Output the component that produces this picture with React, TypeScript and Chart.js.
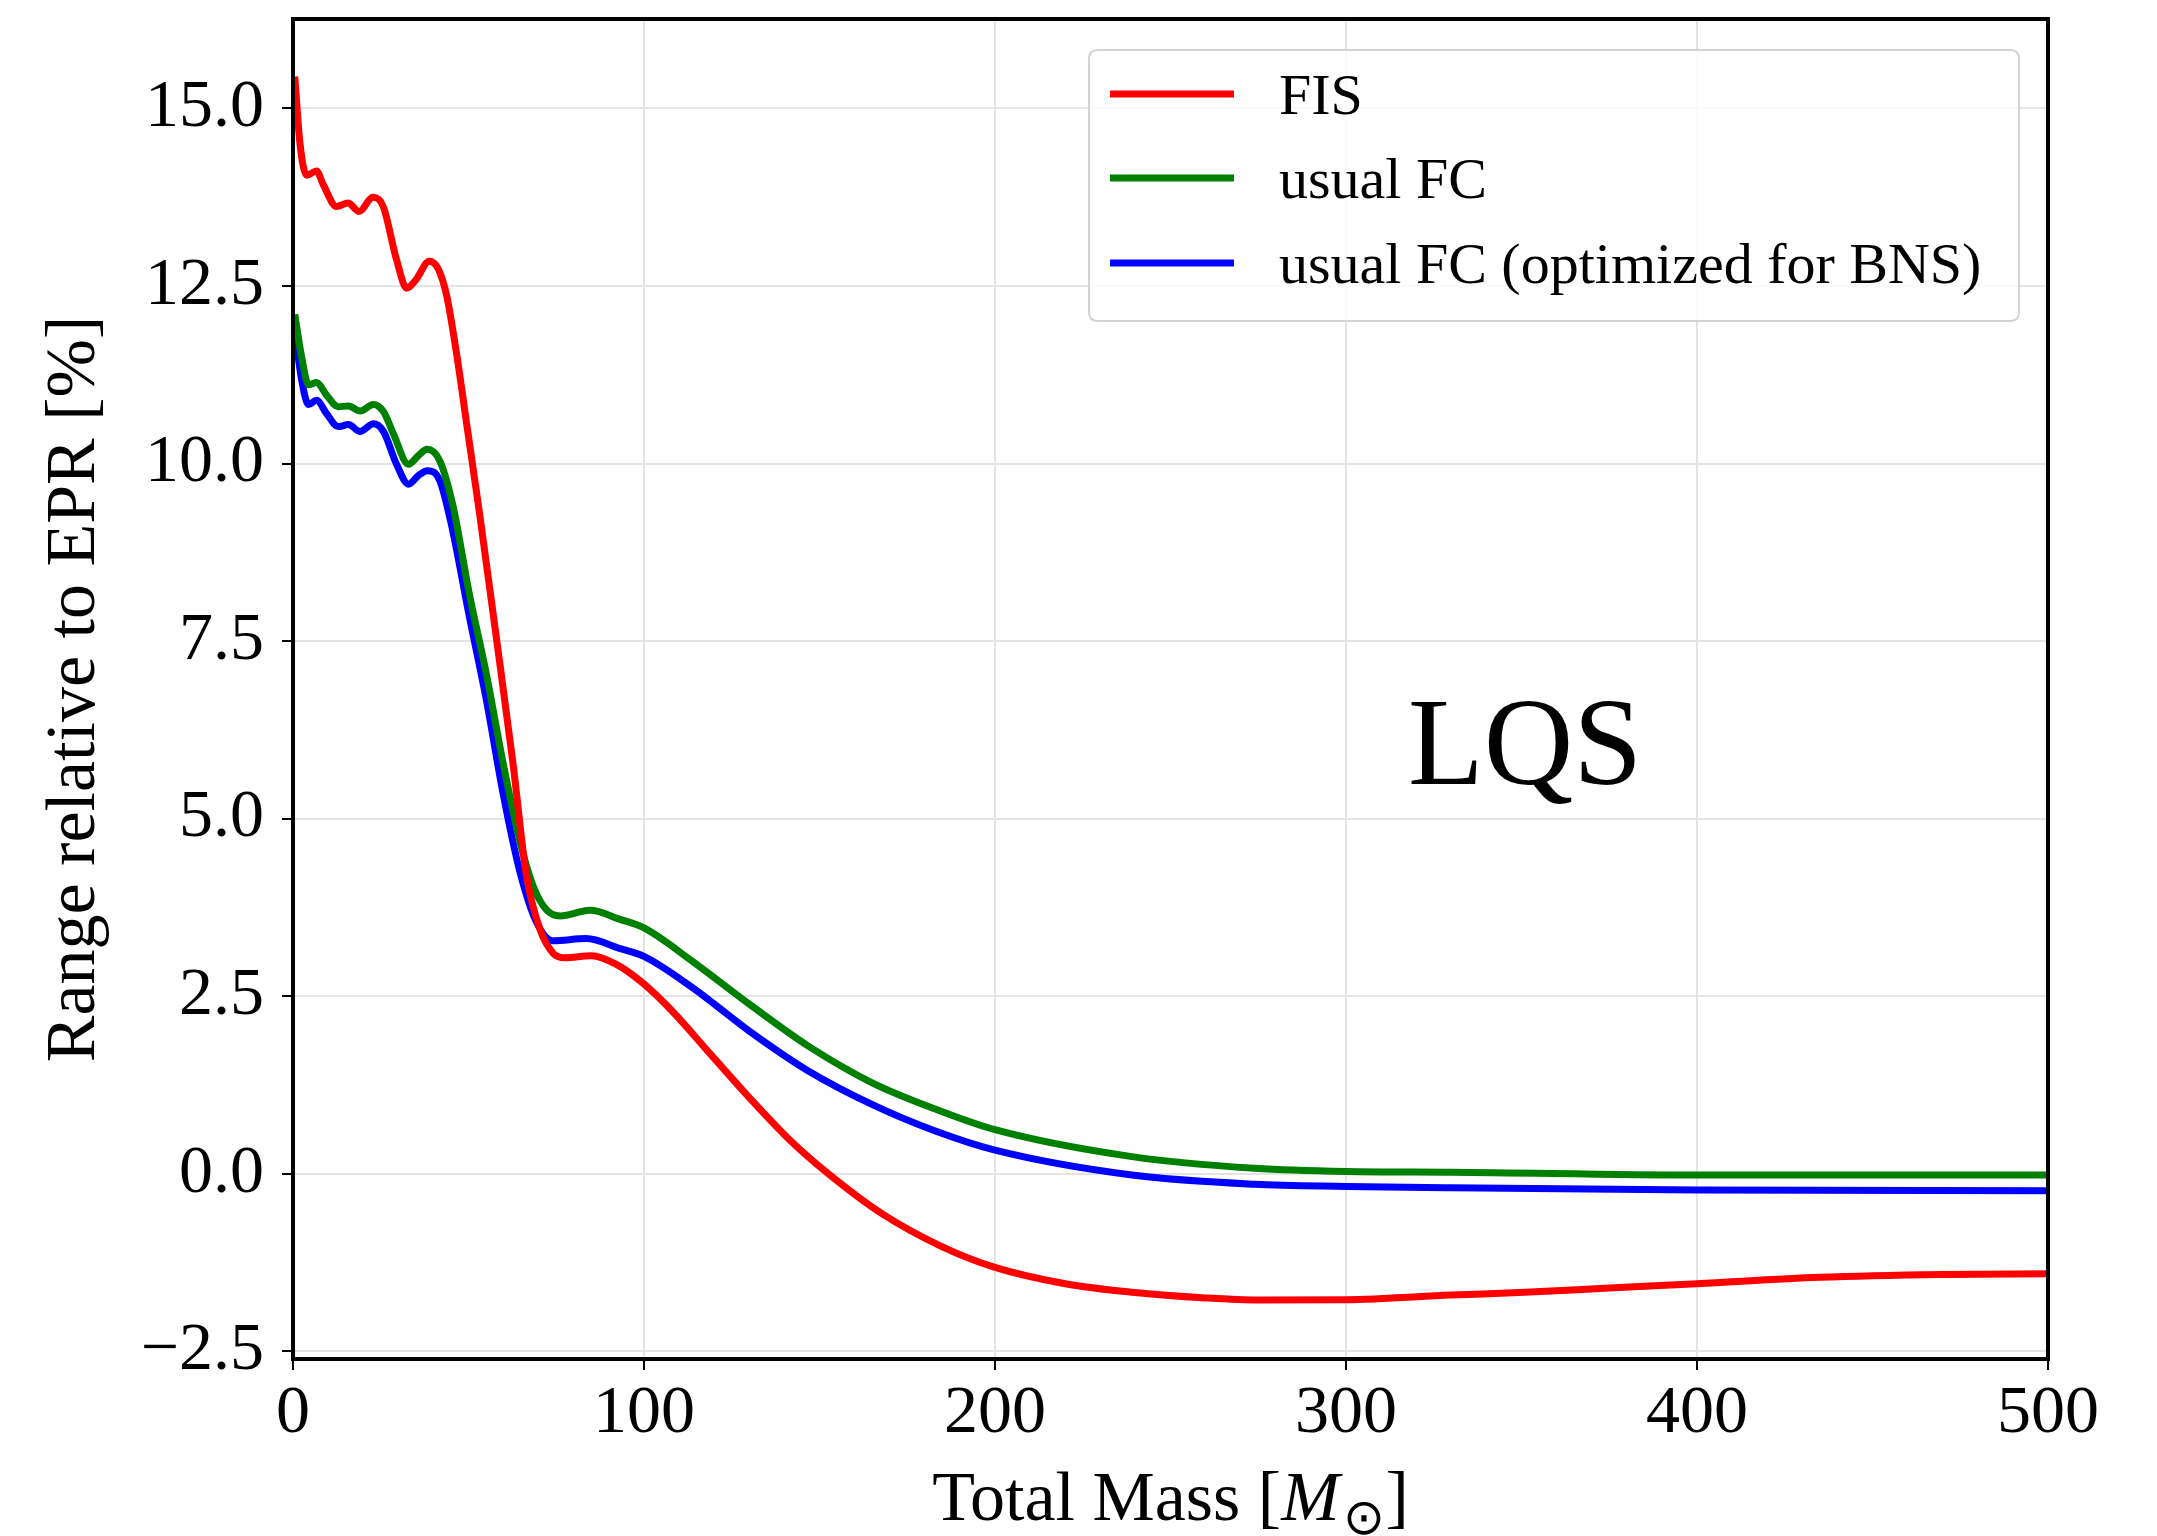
import React, { useEffect, useRef } from "react";
import { Chart, registerables } from "chart.js";

Chart.register(...registerables);

// ---- data ----
const fisMass = [0.5, 2, 3.9, 6.7, 8.6, 12.4, 15.7, 18.8, 22.8, 25.7, 29.5, 32.4, 35.2, 38.8, 41.4, 43.8, 46.6, 49.5, 53.2, 57.9, 62.7, 66.5, 70.3, 74.2, 77.5, 85, 92, 100, 108, 119, 130, 141, 152, 168, 185, 200, 220, 239, 260, 275, 300, 330, 351, 375, 400, 435, 470, 500];
const fisRange = [15.45, 14.5, 14.06, 14.12, 13.93, 13.62, 13.67, 13.55, 13.75, 13.62, 12.87, 12.47, 12.6, 12.85, 12.74, 12.36, 11.55, 10.55, 9.28, 7.56, 5.77, 4.2, 3.45, 3.1, 3.04, 3.07, 2.95, 2.67, 2.29, 1.68, 1.07, 0.5, 0.02, -0.57, -1.03, -1.32, -1.55, -1.67, -1.75, -1.78, -1.775, -1.71, -1.67, -1.61, -1.55, -1.46, -1.42, -1.41];

const fcMass = [0.5, 2.5, 4.4, 6.7, 9.6, 12.9, 15.8, 19.1, 22.9, 25.8, 28.6, 32.9, 35.7, 38.2, 41.8, 45.6, 50.1, 55.2, 59.9, 64.6, 68.5, 72.3, 76.1, 84.6, 93.2, 100, 113.8, 130.2, 146.7, 165, 183, 200, 239, 274, 300, 330, 400, 500];
const fcRange = [12.1, 11.49, 11.11, 11.14, 10.96, 10.8, 10.81, 10.74, 10.83, 10.73, 10.42, 9.99, 10.11, 10.2, 10.04, 9.4, 8.2, 7.01, 5.77, 4.69, 4.04, 3.71, 3.63, 3.71, 3.58, 3.46, 2.99, 2.38, 1.8, 1.28, 0.91, 0.62, 0.24, 0.075, 0.03, 0.02, -0.02, -0.02];

const bnsMass = [0.5, 2.5, 4.4, 6.7, 9.6, 12.9, 15.8, 19.1, 22.9, 25.8, 29.5, 32.9, 35.7, 38.3, 41.8, 45.3, 50.1, 55.2, 59.9, 64.6, 69.3, 74, 83.5, 93.2, 100, 113.8, 130.2, 146.7, 166, 183, 200, 239, 274, 300, 330, 400, 500];
const bnsRange = [11.85, 11.17, 10.83, 10.89, 10.7, 10.52, 10.55, 10.45, 10.56, 10.45, 9.99, 9.71, 9.83, 9.9, 9.76, 9.1, 7.88, 6.64, 5.34, 4.26, 3.55, 3.28, 3.31, 3.17, 3.06, 2.62, 2.0, 1.45, 0.95, 0.6, 0.33, -0.02, -0.15, -0.18, -0.2, -0.23, -0.24];

const seriesLabels = ["FIS", "usual FC", "usual FC (optimized for BNS)"];
const seriesColors = ["#ff0000", "#008000", "#0000ff"];

const xMin = 0, xMax = 500, xStep = 100;
const yMin = -2.61, yMax = 16.26, yStep = 2.5;
const yTitle = "Range relative to EPR [%]";
const annotationText = "LQS";
const annotationPos = { x: 351, y: 5.49 };

const SERIF = '"Liberation Serif", "Times New Roman", serif';

const zip = (xs: number[], ys: number[]) => xs.map((x, i) => ({ x, y: ys[i] }));

const decorPlugin = {
  id: "decor",
  afterDatasetsDraw(chart: any) {
    const { ctx, chartArea, scales } = chart;
    // annotation text
    ctx.save();
    ctx.fillStyle = "#000";
    ctx.font = `124px ${SERIF}`;
    ctx.textAlign = "center";
    ctx.textBaseline = "alphabetic";
    ctx.fillText(annotationText, scales.x.getPixelForValue(annotationPos.x), scales.y.getPixelForValue(annotationPos.y));
    ctx.restore();

    // spines
    ctx.save();
    ctx.strokeStyle = "#000";
    ctx.lineWidth = 4;
    ctx.strokeRect(chartArea.left, chartArea.top, chartArea.right - chartArea.left, chartArea.bottom - chartArea.top);
    ctx.restore();

    // legend
    const lx = 1089, ly = 50, lw = 930, lh = 271, r = 9;
    ctx.save();
    ctx.beginPath();
    ctx.moveTo(lx + r, ly);
    ctx.lineTo(lx + lw - r, ly);
    ctx.quadraticCurveTo(lx + lw, ly, lx + lw, ly + r);
    ctx.lineTo(lx + lw, ly + lh - r);
    ctx.quadraticCurveTo(lx + lw, ly + lh, lx + lw - r, ly + lh);
    ctx.lineTo(lx + r, ly + lh);
    ctx.quadraticCurveTo(lx, ly + lh, lx, ly + lh - r);
    ctx.lineTo(lx, ly + r);
    ctx.quadraticCurveTo(lx, ly, lx + r, ly);
    ctx.closePath();
    ctx.fillStyle = "rgba(255,255,255,0.85)";
    ctx.fill();
    ctx.strokeStyle = "#d3d3d3";
    ctx.lineWidth = 2;
    ctx.stroke();
    const rowsY = [94, 178, 263];
    chart.data.datasets.forEach((ds: any, i: number) => {
      const y = rowsY[i];
      ctx.beginPath();
      ctx.moveTo(1110, y);
      ctx.lineTo(1234, y);
      ctx.strokeStyle = ds.borderColor;
      ctx.lineWidth = 7;
      ctx.stroke();
      ctx.fillStyle = "#000";
      ctx.font = `58px ${SERIF}`;
      ctx.textAlign = "left";
      ctx.textBaseline = "alphabetic";
      ctx.fillText(ds.label, 1279, y + 20);
    });
    ctx.restore();

    // x axis title with math: Total Mass [M_⊙]
    ctx.save();
    ctx.fillStyle = "#000";
    ctx.textBaseline = "alphabetic";
    ctx.textAlign = "left";
    const fNorm = `70px ${SERIF}`;
    const fIt = `italic 70px ${SERIF}`;
    const fSub = `50px ${SERIF}`;
    const parts = [
      { t: "Total Mass [", f: fNorm, dy: 0 },
      { t: "M", f: fIt, dy: 0 },
      { t: "\u2299", f: fSub, dy: 14 },
      { t: "]", f: fNorm, dy: 0 },
    ];
    let total = 0;
    const widths = parts.map((p) => {
      ctx.font = p.f;
      const w = ctx.measureText(p.t).width + (p.t === "M" ? 4 : 0);
      total += w;
      return w;
    });
    let x = (chartArea.left + chartArea.right) / 2 - total / 2;
    const base = 1520;
    parts.forEach((p, i) => {
      ctx.font = p.f;
      ctx.fillText(p.t, x, base + p.dy);
      x += widths[i];
    });
    ctx.restore();
  },
};

export default function App() {
  const ref = useRef<HTMLCanvasElement | null>(null);
  useEffect(() => {
    document.body.style.margin = "0";
    const canvas = ref.current!;
    const datasets = [
      zip(fisMass, fisRange),
      zip(fcMass, fcRange),
      zip(bnsMass, bnsRange),
    ].map((d, i) => ({
      label: seriesLabels[i],
      data: d,
      borderColor: seriesColors[i],
      backgroundColor: seriesColors[i],
      borderWidth: 7,
      pointRadius: 0,
      fill: false,
      cubicInterpolationMode: "monotone" as const,
    }));
    const chart = new Chart(canvas, {
      type: "line",
      data: { datasets },
      options: {
        responsive: false,
        animation: false,
        devicePixelRatio: 1,
        layout: { padding: { top: 19, right: 109, left: 0, bottom: 0 } },
        plugins: { legend: { display: false }, tooltip: { enabled: false } },
        scales: {
          x: {
            type: "linear",
            min: xMin,
            max: xMax,
            border: { display: false },
            grid: { color: "#e4e4e4", lineWidth: 2, tickColor: "#000", tickWidth: 2, tickLength: 11, drawTicks: true },
            ticks: {
              stepSize: xStep,
              color: "#000",
              font: { family: SERIF, size: 68 },
              padding: 3,
              maxRotation: 0,
              includeBounds: false,
              callback: (v: any) => String(v),
            },
            afterFit: (s: any) => {
              s.height = 177;
              s.paddingLeft = 0;
              s.paddingRight = 0;
            },
          },
          y: {
            type: "linear",
            min: yMin,
            max: yMax,
            border: { display: false },
            grid: { color: "#e4e4e4", lineWidth: 2, tickColor: "#000", tickWidth: 2, tickLength: 11, drawTicks: true },
            ticks: {
              stepSize: yStep,
              color: "#000",
              font: { family: SERIF, size: 68 },
              padding: 18,
              includeBounds: false,
              callback: (v: any) => {
                const n = Number(v);
                const s = Math.abs(n).toFixed(1);
                return n < 0 ? "\u2212" + s : s;
              },
            },
            title: {
              display: true,
              text: yTitle,
              color: "#000",
              font: { family: SERIF, size: 70 },
              padding: { top: 34, bottom: 0 },
            },
            afterFit: (s: any) => {
              s.width = 293;
              s.paddingTop = 0;
              s.paddingBottom = 0;
            },
          },
        },
      },
      plugins: [decorPlugin],
    });
    return () => chart.destroy();
  }, []);
  return (
    <div style={{ width: 2157, height: 1536, background: "#fff" }}>
      <canvas ref={ref} width={2157} height={1536} style={{ display: "block" }} />
    </div>
  );
}
